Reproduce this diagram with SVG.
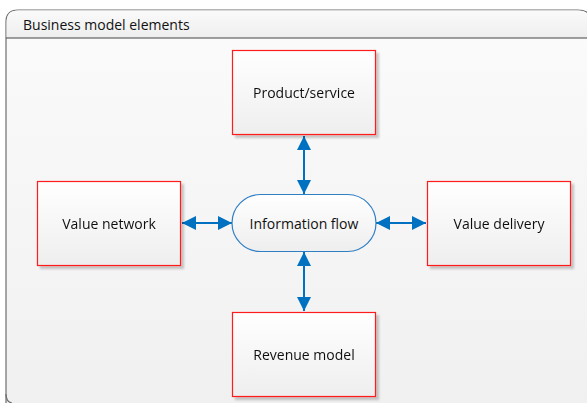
<svg xmlns="http://www.w3.org/2000/svg" width="587" height="403" viewBox="0 0 587 403">
<defs>
<linearGradient id="bg" x1="0" y1="0" x2="0" y2="1">
<stop offset="0" stop-color="#fbfbfb"/><stop offset="1" stop-color="#f0f0f0"/>
</linearGradient>
<linearGradient id="hd" x1="0" y1="0" x2="0" y2="1">
<stop offset="0" stop-color="#fafafa"/><stop offset="1" stop-color="#eeeeee"/>
</linearGradient>
<linearGradient id="nf" x1="0" y1="0" x2="0" y2="1">
<stop offset="0" stop-color="#ffffff"/><stop offset="1" stop-color="#eeeeee"/>
</linearGradient>
<marker id="ah" viewBox="0 0 10 10" refX="10" refY="5" markerWidth="7" markerHeight="7" orient="auto-start-reverse" markerUnits="strokeWidth">
<path d="M0,0 L10,5 L0,10 Z" fill="#0070c0"/>
</marker>
<filter id="sh" x="-10%" y="-10%" width="130%" height="130%">
<feGaussianBlur in="SourceAlpha" stdDeviation="1"/>
<feOffset dx="3" dy="3"/>
<feComponentTransfer><feFuncA type="linear" slope="0.2"/></feComponentTransfer>
<feMerge><feMergeNode/><feMergeNode in="SourceGraphic"/></feMerge>
</filter>
</defs>
<style>
.box{fill:url(#nf);stroke:#ff1a1a;stroke-width:1.2}
.pill{fill:url(#nf);stroke:#2f7fc4;stroke-width:1.2}
.t{font-family:"Open Sans","Liberation Sans",sans-serif;font-size:14px;fill:#111;text-anchor:middle;dominant-baseline:central}
.c{stroke:#0070c0;stroke-width:2;fill:none;marker-start:url(#ah);marker-end:url(#ah)}
</style>
<g id="frame">
<path d="M6,412 L6,22 Q6,10 18,10 L578,10 Q592,10 592,24 L592,412 Z" fill="url(#bg)" stroke="#6e6e6e" stroke-width="1.2"/>
<path d="M6.6,38 L6.6,22 Q6.6,10.6 18,10.6 L578,10.6 Q591,10.6 591,24 L591,38 Z" fill="url(#hd)"/>
<line x1="6" y1="38" x2="592" y2="38" stroke="#444" stroke-width="1.2"/>
<path d="M6,394 Q6,402 12,403" fill="none" stroke="#6e6e6e" stroke-width="1.2"/>
<text x="23" y="24.5" font-family="Open Sans, Liberation Sans, sans-serif" font-size="14" fill="#111" dominant-baseline="central">Business model elements</text>
</g>
<g id="connectors">
<line class="c" x1="304" y1="136" x2="304" y2="194"/>
<line class="c" x1="304" y1="252" x2="304" y2="311"/>
<line class="c" x1="182" y1="223" x2="232" y2="223"/>
<line class="c" x1="376" y1="223" x2="426" y2="223"/>
</g>
<g id="product" filter="url(#sh)">
<rect class="box" x="232.5" y="50.5" width="143" height="84"/>
<text class="t" x="304" y="92.5">Product/service</text>
</g>
<g id="network" filter="url(#sh)">
<rect class="box" x="37.5" y="181.5" width="143" height="84"/>
<text class="t" x="109" y="223.5">Value network</text>
</g>
<g id="delivery" filter="url(#sh)">
<rect class="box" x="427.5" y="181.5" width="143" height="84"/>
<text class="t" x="499" y="223.5">Value delivery</text>
</g>
<g id="revenue" filter="url(#sh)">
<rect class="box" x="232.5" y="312.5" width="143" height="84"/>
<text class="t" x="304" y="354.5">Revenue model</text>
</g>
<g id="info">
<rect class="pill" x="232" y="194.5" width="144" height="57" rx="28.5"/>
<text class="t" x="304" y="223">Information flow</text>
</g>
</svg>
